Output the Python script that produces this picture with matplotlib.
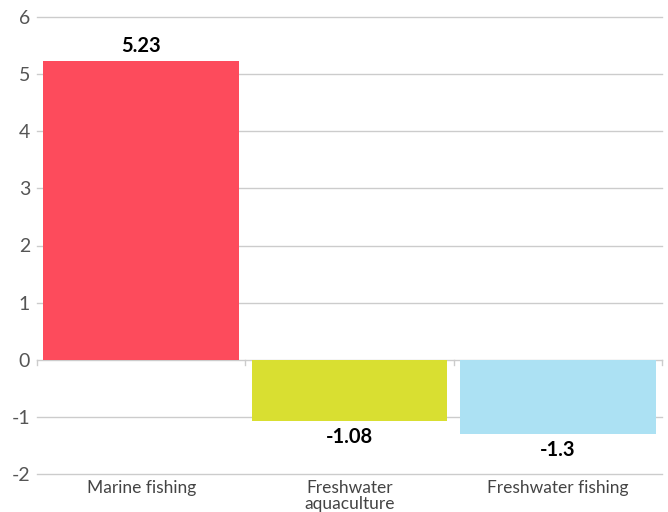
import matplotlib
matplotlib.use("Agg")
import matplotlib.pyplot as plt

# data
categories = ["Marine fishing", "Freshwater\naquaculture", "Freshwater fishing"]
values = [5.23, -1.08, -1.3]
value_labels = ["5.23", "-1.08", "-1.3"]
colors = ["#fd4b5c", "#d9df31", "#ace1f3"]
yticks = [-2, -1, 0, 1, 2, 3, 4, 5, 6]

plt.rcParams["font.family"] = ["Lato", "DejaVu Sans"]

fig = plt.figure(figsize=(6.68, 5.12), dpi=100)
ax = fig.add_axes([37 / 668, 38 / 512, 625 / 668, 457 / 512])

x = range(len(categories))
ax.bar(x, values, width=0.94, color=colors, zorder=3)

ax.set_xlim(-0.5, len(categories) - 0.5)
ax.set_ylim(-2, 6)
ax.set_yticks(yticks)
ax.set_yticklabels([str(t) for t in yticks], fontsize=14, color="#555555")
ax.yaxis.grid(True, color="#cccccc", linewidth=1, zorder=0)
for gl in ax.get_ygridlines():
    gl.set_clip_on(False)
ax.tick_params(axis="y", length=0, pad=5)

# category labels below plot
ax.set_xticks([])
for i, lab in enumerate(categories):
    ax.text(i, -2.1, lab, ha="center", va="top", fontsize=12.5,
            color="#444444", linespacing=1.0)

# small ticks at category boundaries on zero line
for b in [-0.5, 0.5, 1.5, 2.5]:
    ax.plot([b, b], [0, -0.1], color="#cccccc", linewidth=1, zorder=2,
            clip_on=False)

for s in ax.spines.values():
    s.set_visible(False)

# value labels
for i, (v, lab) in enumerate(zip(values, value_labels)):
    if v >= 0:
        ax.text(i, v + 0.08, lab, ha="center", va="bottom", fontsize=14.5,
                fontweight="bold", color="black")
    else:
        ax.text(i, v - 0.1, lab, ha="center", va="top", fontsize=14.5,
                fontweight="bold", color="black")

fig.savefig("out.png", dpi=100)
